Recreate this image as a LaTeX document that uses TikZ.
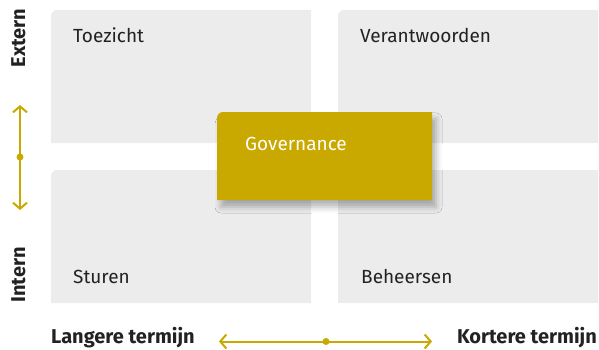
\documentclass[tikz,border=0pt]{standalone}
\usepackage{fontspec}
\setmainfont{Fira Sans}
\usetikzlibrary{calc,arrows.meta,shadows.blur}

\definecolor{quadgrey}{HTML}{ECECEC}
\definecolor{govgold}{HTML}{C9A800}
\definecolor{textdark}{HTML}{222222}

\tikzset{
  quad label/.style={anchor=base west, inner sep=0pt, text=textdark,
    font=\fontsize{19}{22}\selectfont},
  axis label/.style={inner sep=0pt, text=textdark,
    font=\bfseries\fontsize{20}{24}\selectfont},
  axis arrow/.style={govgold, line width=2pt,
    {Straight Barb[length=6pt,width=14pt]}-{Straight Barb[length=6pt,width=14pt]}},
  axis dot/.style={fill=govgold}
}

% box with only its top left corner rounded
\newcommand{\cornerbox}[3][]{%
  \fill[#1] (#2) -- ($(#2 |- #3)+(0,-6pt)$)
    arc[start angle=180, end angle=90, radius=6pt] -- (#3) -- (#3 |- #2) -- cycle;
}

\begin{document}
\begin{tikzpicture}[x=1pt,y=1pt]

    \useasboundingbox (0,0) rectangle (599,349);

    \coordinate (TL bottom left)  at (51,206);
    \coordinate (TL top right)    at (311,339);
    \coordinate (TR bottom left)  at (338,206);
    \coordinate (TR top right)    at (598,339);
    \coordinate (BL bottom left)  at (51,46);
    \coordinate (BL top right)    at (311,179);
    \coordinate (BR bottom left)  at (338,46);
    \coordinate (BR top right)    at (598,179);
    \coordinate (Gov bottom left) at (217,149);
    \coordinate (Gov top right)   at (432,237);

    \cornerbox[quadgrey]{TL bottom left}{TL top right}
    \cornerbox[quadgrey]{TR bottom left}{TR top right}
    \cornerbox[quadgrey]{BL bottom left}{BL top right}
    \cornerbox[quadgrey]{BR bottom left}{BR top right}
    \cornerbox[govgold, blur shadow={shadow xshift=4pt, shadow yshift=-7pt,
      shadow blur radius=6pt, shadow opacity=30}]{Gov bottom left}{Gov top right}

    \node[quad label] (toezicht)      at (73,306)  {Toezicht};
    \node[quad label] (verantwoorden) at (360,306) {Verantwoorden};
    \node[quad label] (sturen)        at (73,66)   {Sturen};
    \node[quad label] (beheersen)     at (361,66)  {Beheersen};
    \node[quad label, text=white] (governance) at (245,199) {Governance};

    % vertical axis
    \node[axis label, rotate=90, anchor=base] (extern) at (25,311) {Extern};
    \node[axis label, rotate=90, anchor=base] (intern) at (25,74)  {Intern};
    \coordinate (v top)    at (20,244);
    \coordinate (v bottom) at (20,139);
    \coordinate (v dot)    at (20,192);
    \draw[axis arrow] (v bottom) -- (v top);
    \fill[axis dot] (v dot) circle (3.5pt);

    % horizontal axis
    \node[axis label, anchor=base west] (langer) at (51,5.5)  {Langere termijn};
    \node[axis label, anchor=base east] (korter) at (597,5.5) {Kortere termijn};
    \coordinate (h left)  at (219,7.5);
    \coordinate (h right) at (432,7.5);
    \coordinate (h dot)   at (326,7.5);
    \draw[axis arrow] (h left) -- (h right);
    \fill[axis dot] (h dot) circle (3.5pt);

\end{tikzpicture}
\end{document}
